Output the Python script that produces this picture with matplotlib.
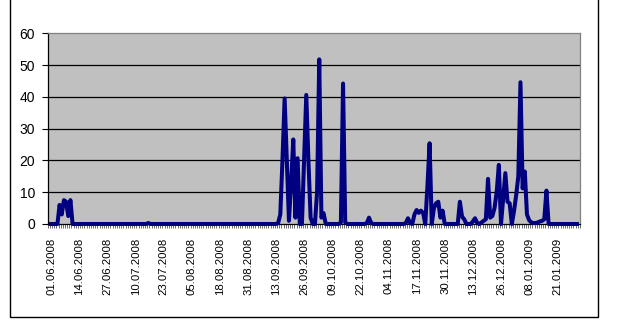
import matplotlib
matplotlib.use("Agg")
import matplotlib.pyplot as plt
import matplotlib.transforms as mtransforms
from matplotlib.patches import Rectangle
import numpy as np
import pandas as pd

# daily values, one list per month (01.06.2008 .. 01.02.2009)
jun = [0, 0, 0, 0, 0, 6, 3, 7.5, 7, 2.5, 7.5, 0, 0, 0, 0, 0, 0, 0, 0, 0,
       0, 0, 0, 0, 0, 0, 0, 0, 0, 0]
jul = [0, 0, 0, 0, 0, 0, 0, 0, 0, 0, 0, 0, 0, 0, 0, 0, 0.3, 0, 0, 0,
       0, 0, 0, 0, 0, 0, 0, 0, 0, 0, 0]
aug = [0, 0, 0, 0, 0, 0, 0, 0, 0, 0, 0, 0, 0, 0, 0, 0, 0, 0, 0, 0,
       0, 0, 0, 0, 0, 0, 0, 0, 0, 0, 0]
sep = [0, 0, 0, 0, 0, 0, 0, 0, 0, 0, 0, 0, 0, 0, 0.3, 3, 20, 39.5, 20, 1,
       13, 26.6, 2, 20.7, 0, 0, 20, 40.6, 20, 2]
oct_ = [0, 0, 10, 51.8, 2, 3.4, 0, 0, 0, 0, 0, 0, 0, 0.5, 44.2, 0.5, 0, 0, 0, 0,
        0, 0, 0, 0, 0, 0.3, 2, 0.3, 0, 0, 0]
nov = [0, 0, 0, 0, 0, 0, 0, 0, 0, 0, 0, 0, 0.3, 1.8, 0.3, 0, 3, 4.4, 3.5, 4.2,
       3.5, 0, 12, 25.4, 0, 5, 6.5, 7, 2, 4.2]
dec = [0, 0, 0, 0, 0, 0, 0, 7, 2.3, 1.5, 0, 0, 0, 0.8, 1.8, 0.3, 0, 0.5, 1, 1.5,
       14.2, 2, 2.5, 5, 10, 18.6, 0, 8, 16, 7, 6.5]
jan = [0, 4, 9, 15, 44.6, 11.2, 16.5, 3, 1.2, 0.5, 0.3, 0.3, 0.5, 0.8, 1, 1.5, 10.5, 0, 0, 0,
       0, 0, 0, 0, 0, 0, 0, 0, 0, 0, 0]
feb = [0]

tick_labels = ["01.06.2008", "14.06.2008", "27.06.2008", "10.07.2008", "23.07.2008",
               "05.08.2008", "18.08.2008", "31.08.2008", "13.09.2008", "26.09.2008",
               "09.10.2008", "22.10.2008", "04.11.2008", "17.11.2008", "30.11.2008",
               "13.12.2008", "26.12.2008", "08.01.2009", "21.01.2009"]
y_ticks = [0, 10, 20, 30, 40, 50, 60]

values = jun + jul + aug + sep + oct_ + nov + dec + jan + feb
dates = pd.date_range("2008-06-01", periods=len(values), freq="D").strftime("%d.%m.%Y").tolist()
x = np.arange(len(values))
tick_pos = [dates.index(s) for s in tick_labels]

plt.rcParams["font.family"] = ["Liberation Sans", "DejaVu Sans"]

fig = plt.figure(figsize=(6.17, 3.25), dpi=100)
fig.patch.set_facecolor("white")
ax = fig.add_axes([0.0773, 0.3108, 0.8627, 0.5867])
ax.set_facecolor("#C0C0C0")

for yv in y_ticks[1:-1]:
    ax.axhline(yv, color="black", lw=0.9, zorder=1)

ax.plot(x, values, color="#000080", lw=2.9, clip_on=False, zorder=3,
        solid_joinstyle="round", solid_capstyle="butt")

ax.set_xlim(-0.5, len(values) - 0.5)
ax.set_ylim(0, 60)
ax.set_yticks(y_ticks)
ax.set_yticklabels([str(v) for v in y_ticks], fontsize=10)
ax.tick_params(axis="y", direction="out", length=4, width=0.8, pad=5, color="black")

ax.set_xticks(tick_pos)
ax.set_xticklabels(tick_labels, rotation=90, fontsize=8.2)
ax.set_xticks(np.arange(-0.5, len(values), 1), minor=True)
ax.tick_params(axis="x", which="major", length=0, pad=10)
ax.tick_params(axis="x", which="minor", direction="out", length=3, width=0.5, color="#333333")
shift = mtransforms.ScaledTranslation(2.5 / 100, 0, fig.dpi_scale_trans)
for lab in ax.get_xticklabels():
    lab.set_transform(lab.get_transform() + shift)

ax.spines["left"].set_color("black")
ax.spines["bottom"].set_color("black")
ax.spines["top"].set_color("#808080")
ax.spines["right"].set_color("#808080")
for s in ax.spines.values():
    s.set_linewidth(0.9)

# outer chart frame (top edge lies above the visible area)
fig.add_artist(Rectangle((9.5 / 617, 1 - 316.7 / 325), (597.7 - 9.5) / 617, 1.2,
                         transform=fig.transFigure, fill=False, lw=1.0, ec="black"))

fig.savefig("out.png", dpi=100)
